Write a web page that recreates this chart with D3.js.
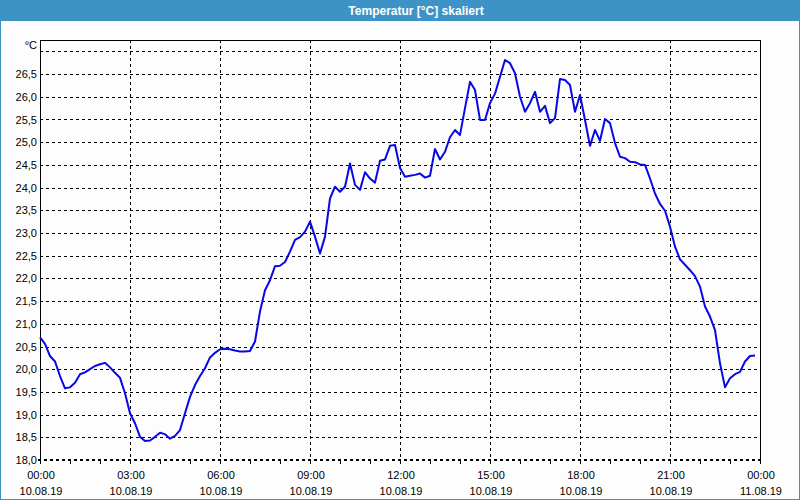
<!DOCTYPE html>
<html><head><meta charset="utf-8">
<script src="https://cdn.jsdelivr.net/npm/d3@7"></script>
<style>
html,body{margin:0;padding:0;background:#fcfdfc;}
svg{display:block;font-family:"Liberation Sans",Arial,sans-serif;}
</style></head>
<body>
<svg id="chart" width="800" height="500"></svg>
<script>
// ---- data (10-minute samples, 10.08.19 00:00 .. 23:50) ----
const title = "Temperatur [°C] skaliert";
const unitLabel = "°C";
const temperatures = [
 20.70,20.56,20.29,20.17,19.85,19.58,19.60,19.70,19.89,19.93,20.00,20.07,
 20.11,20.14,20.04,19.92,19.81,19.47,19.03,18.81,18.51,18.42,18.43,18.51,
 18.60,18.57,18.47,18.53,18.66,19.03,19.39,19.65,19.85,20.02,20.26,20.36,
 20.44,20.45,20.44,20.41,20.39,20.39,20.40,20.61,21.27,21.74,21.96,22.27,
 22.28,22.36,22.59,22.85,22.91,23.03,23.25,22.92,22.55,22.92,23.76,24.02,
 23.91,24.02,24.53,24.06,23.95,24.34,24.20,24.11,24.59,24.62,24.92,24.94,
 24.43,24.24,24.26,24.28,24.31,24.22,24.26,24.85,24.62,24.79,25.11,25.27,
 25.16,25.75,26.33,26.15,25.49,25.49,25.86,26.07,26.44,26.81,26.74,26.52,
 26.00,25.67,25.86,26.11,25.67,25.80,25.42,25.53,26.39,26.37,26.26,25.67,
 26.04,25.49,24.92,25.27,25.03,25.51,25.42,24.98,24.68,24.65,24.57,24.56,
 24.51,24.50,24.20,23.87,23.64,23.49,23.14,22.70,22.42,22.30,22.18,22.05,
 21.82,21.38,21.16,20.86,20.13,19.60,19.80,19.89,19.94,20.17,20.29,20.30
];
const sampleMinutes = temperatures.map((_, i) => i * 10);
const xTickHours = [0, 3, 6, 9, 12, 15, 18, 21, 24];
const xTickTimes = ["00:00","03:00","06:00","09:00","12:00","15:00","18:00","21:00","00:00"];
const xTickDates = ["10.08.19","10.08.19","10.08.19","10.08.19","10.08.19","10.08.19","10.08.19","10.08.19","11.08.19"];
const yTickValues = [18.0,18.5,19.0,19.5,20.0,20.5,21.0,21.5,22.0,22.5,23.0,23.5,24.0,24.5,25.0,25.5,26.0,26.5];
const yGridValues = [18.5,19.0,19.5,20.0,20.5,21.0,21.5,22.0,22.5,23.0,23.5,24.0,24.5,25.0,25.5,26.0,26.5,27.0];

// ---- layout ----
const W = 800, H = 500;
const L = 40, R = 760, T = 40, B = 460;
const svg = d3.select("#chart");
const frameBlue = "#3d93c6";

const x = d3.scaleLinear().domain([0, 24 * 60]).range([L, R]);
const y = d3.scaleLinear().domain([18, 27]).range([B, 51.4]);
const px = v => Math.round(v) + 0.5;

// background & title bar
svg.append("rect").attr("x",0).attr("y",0).attr("width",W).attr("height",H).attr("fill","#fcfdfc");
svg.append("rect").attr("x",0).attr("y",0).attr("width",W).attr("height",21).attr("fill",frameBlue);
svg.append("text").attr("x",416).attr("y",14.5).attr("text-anchor","middle")
  .attr("fill","#ffffff").attr("font-weight","bold").attr("font-size","12px").text(title);
// window border
svg.append("rect").attr("x",0.5).attr("y",20.5).attr("width",W-1).attr("height",H-21)
  .attr("fill","none").attr("stroke",frameBlue).attr("stroke-width",1);

// grid
const g = svg.append("g");
g.selectAll("line.hg").data(yGridValues).join("line")
  .attr("x1",L).attr("x2",R).attr("y1",d=>px(y(d))).attr("y2",d=>px(y(d)))
  .attr("stroke","#000").attr("stroke-width",1).attr("stroke-dasharray","3,3");
g.selectAll("line.vg").data(xTickHours.slice(1,-1)).join("line")
  .attr("x1",d=>px(x(d*60))).attr("x2",d=>px(x(d*60))).attr("y1",T).attr("y2",B)
  .attr("stroke","#000").attr("stroke-width",1).attr("stroke-dasharray","3,3");

// frame
svg.append("line").attr("x1",px(L)).attr("x2",px(L)).attr("y1",T).attr("y2",B+4).attr("stroke","#000");
svg.append("line").attr("x1",L).attr("x2",R+1).attr("y1",px(T)).attr("y2",px(T)).attr("stroke","#000");
svg.append("line").attr("x1",px(R)).attr("x2",px(R)).attr("y1",T).attr("y2",B+4).attr("stroke","#000");
svg.append("line").attr("x1",L-2).attr("x2",R).attr("y1",B).attr("y2",B)
  .attr("stroke","#000").attr("stroke-width",2).attr("stroke-dasharray","3,3");

// x axis hourly ticks
svg.selectAll("line.xt").data(d3.range(1,24)).join("line")
  .attr("x1",d=>px(x(d*60))).attr("x2",d=>px(x(d*60))).attr("y1",B+1).attr("y2",B+4)
  .attr("stroke","#000");

// x labels
const xl = svg.append("g").attr("font-size","11px").attr("fill","#000").attr("text-anchor","middle");
xl.selectAll("text.t").data(xTickHours).join("text")
  .attr("x",(d)=>x(d*60)+1).attr("y",479).text((d,i)=>xTickTimes[i]);
xl.selectAll("text.d").data(xTickHours).join("text")
  .attr("x",(d)=>x(d*60)+1).attr("y",495).text((d,i)=>xTickDates[i]);

// y labels
const yl = svg.append("g").attr("font-size","11px").attr("fill","#000").attr("text-anchor","end");
yl.selectAll("text").data(yTickValues).join("text")
  .attr("x",37).attr("y",d=>y(d)+4).text(d=>d3.format(".1f")(d).replace(".",","));
svg.append("text").attr("x",37).attr("y",49).attr("text-anchor","end")
  .attr("font-size","11px").text(unitLabel);

// line
const line = d3.line().x((d,i)=>x(sampleMinutes[i])).y(d=>y(d));
svg.append("path").datum(temperatures).attr("d",line)
  .attr("fill","none").attr("stroke","#0808e6").attr("stroke-width",2)
  .attr("stroke-linejoin","round");
</script>
</body></html>
